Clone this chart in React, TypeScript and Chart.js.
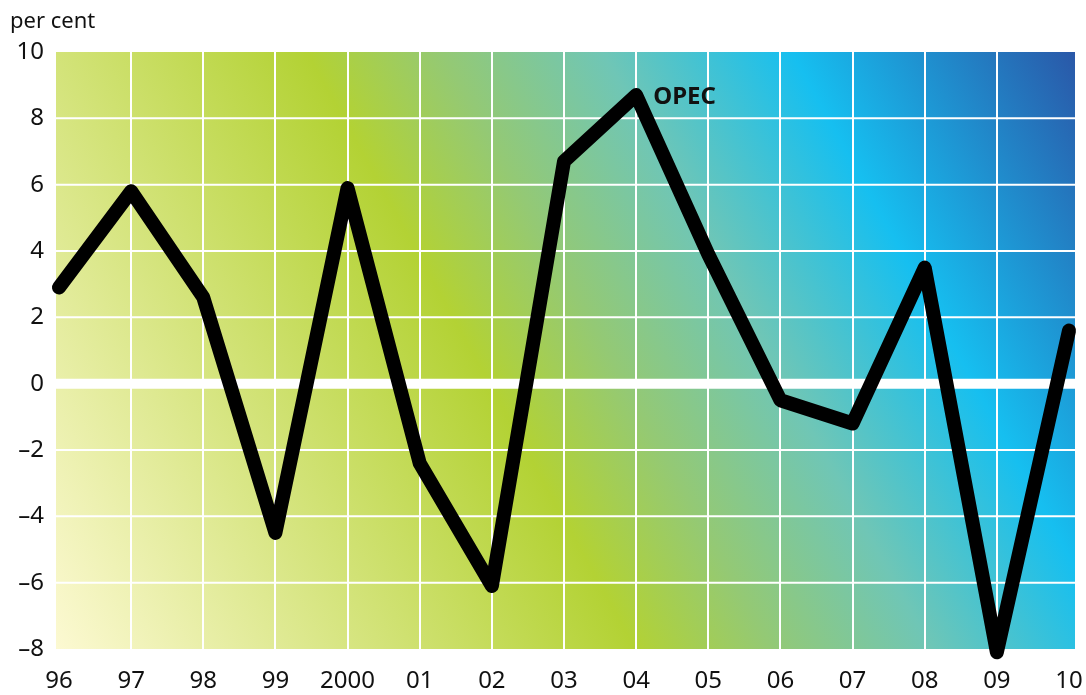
import { useEffect, useRef } from "react";
import { Chart, registerables } from "chart.js";

Chart.register(...registerables);

// Annual GDP growth, OPEC, per cent
const years = ["96", "97", "98", "99", "2000", "01", "02", "03", "04", "05", "06", "07", "08", "09", "10"];
const opecGrowth = [2.9, 5.8, 2.6, -4.5, 5.9, -2.4, -6.1, 6.7, 8.7, 3.9, -0.5, -1.2, 3.5, -8.1, 1.6];
const yMin = -8;
const yMax = 10;
const yStep = 2;
const seriesLabel = "OPEC";
const unitLabel = "per cent";

// Diagonal backdrop colours, bottom-left to top-right
const gradientStops: [number, string][] = [
  [0, "#fcf9d2"],
  [0.43, "#b3d234"],
  [0.53, "#94c974"],
  [0.65, "#6fc6b6"],
  [0.79, "#16bff0"],
  [1, "#2a58a8"],
];

const FONT = "'Noto Sans', 'DejaVu Sans', sans-serif";

const backdropPlugin = {
  id: "backdrop",
  beforeDatasetsDraw(chart: any) {
    const { ctx, chartArea, scales } = chart;
    const left = chartArea.left - 3;
    const right = chartArea.right + 6;
    const top = chartArea.top;
    const bottom = chartArea.bottom;
    // gradient axis tilted so colour bands lean to the right going down
    const ux = 0.876;
    const uy = -0.482;
    const len = (right - left) * ux + (top - bottom) * uy;
    const g = ctx.createLinearGradient(left, bottom, left + ux * len, bottom + uy * len);
    gradientStops.forEach(([p, c]) => g.addColorStop(p, c));
    ctx.save();
    ctx.fillStyle = g;
    ctx.fillRect(left, top, right - left, bottom - top);

    ctx.strokeStyle = "#ffffff";
    // vertical grid at inner categories
    ctx.lineWidth = 2;
    for (let i = 1; i < years.length - 1; i++) {
      const x = Math.round(scales.x.getPixelForValue(i));
      ctx.beginPath();
      ctx.moveTo(x, top);
      ctx.lineTo(x, bottom);
      ctx.stroke();
    }
    // horizontal grid, with a heavy zero line
    for (let v = yMin + yStep; v < yMax; v += yStep) {
      const y = scales.y.getPixelForValue(v);
      ctx.lineWidth = v === 0 ? 10 : 2;
      ctx.beginPath();
      ctx.moveTo(left, y);
      ctx.lineTo(right, y);
      ctx.stroke();
    }
    ctx.restore();
  },
  afterDatasetsDraw(chart: any) {
    const { ctx, scales } = chart;
    ctx.save();
    ctx.fillStyle = "#111111";
    ctx.textBaseline = "middle";
    ctx.textAlign = "left";
    ctx.font = `22px ${FONT}`;
    ctx.fillText(unitLabel, 10, 22);

    // series name beside its peak
    let peak = 0;
    opecGrowth.forEach((v, i) => {
      if (v > opecGrowth[peak]) peak = i;
    });
    const px = scales.x.getPixelForValue(peak);
    const py = scales.y.getPixelForValue(opecGrowth[peak]);
    ctx.font = `bold 24px ${FONT}`;
    ctx.fillText(seriesLabel, px + 17, py + 2);
    ctx.restore();
  },
};

export default function App() {
  const canvasRef = useRef<HTMLCanvasElement | null>(null);

  useEffect(() => {
    if (!canvasRef.current) return;
    const chart = new Chart(canvasRef.current, {
      type: "line",
      data: {
        labels: years,
        datasets: [
          {
            label: seriesLabel,
            data: opecGrowth,
            borderColor: "#000000",
            borderWidth: 14,
            borderJoinStyle: "round",
            borderCapStyle: "round",
            pointRadius: 0,
            pointHoverRadius: 0,
            tension: 0,
            fill: false,
            clip: false as any,
          },
        ],
      },
      options: {
        animation: false,
        responsive: false,
        events: [],
        layout: { padding: { top: 52, right: 17, left: 0, bottom: 0 } },
        plugins: {
          legend: { display: false },
          tooltip: { enabled: false },
        },
        scales: {
          x: {
            type: "category",
            offset: false,
            grid: { display: false, drawTicks: false },
            border: { display: false },
            ticks: {
              color: "#111111",
              font: { family: FONT, size: 24 },
              padding: 18,
              maxRotation: 0,
              autoSkip: false,
            },
            afterFit(scale: any) {
              scale.height = 46;
              scale.paddingLeft = 0;
              scale.paddingRight = 0;
            },
          },
          y: {
            min: yMin,
            max: yMax,
            grid: { display: false, drawTicks: false },
            border: { display: false },
            ticks: {
              stepSize: yStep,
              color: "#111111",
              font: { family: FONT, size: 24 },
              padding: 15,
              callback: (v: any) => (Number(v) < 0 ? "\u2013" + Math.abs(Number(v)) : String(v)),
            },
            afterFit(scale: any) {
              scale.width = 59;
              scale.paddingTop = 0;
              scale.paddingBottom = 0;
            },
          },
        },
      },
      plugins: [backdropPlugin],
    });
    return () => chart.destroy();
  }, []);

  return (
    <div style={{ position: "absolute", left: 0, top: 0, width: 1086, height: 695, background: "#fff" }}>
      <canvas ref={canvasRef} width={1086} height={695} style={{ display: "block" }} />
    </div>
  );
}
